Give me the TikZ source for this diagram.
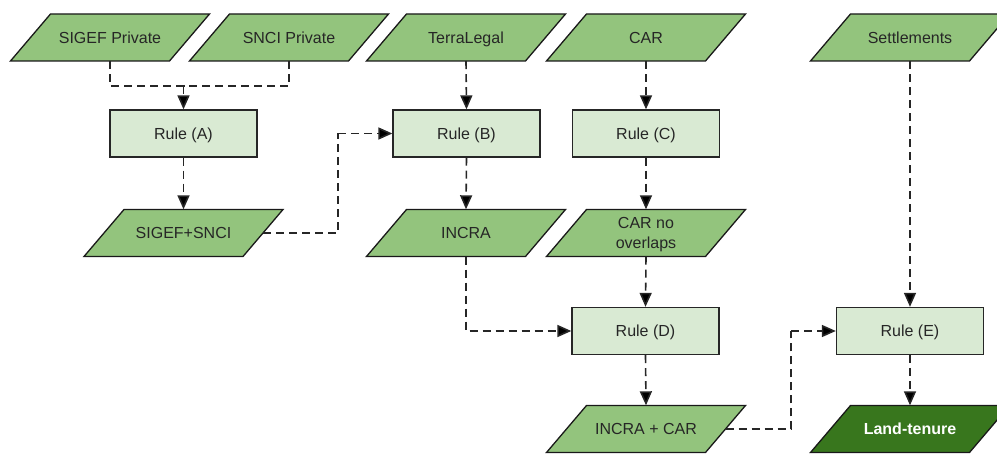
\documentclass[tikz,border=0pt]{standalone}
\usepackage{fontspec}
\setmainfont{Liberation Sans}
\usetikzlibrary{arrows.meta,backgrounds}
\definecolor{midgreen}{HTML}{93C47D}
\definecolor{lightgreen}{HTML}{D9EAD3}
\definecolor{darkgreen}{HTML}{38761D}
\definecolor{txt}{HTML}{262626}
\definecolor{linegray}{HTML}{262626}
\tikzset{
  data/.style={rectangle, minimum width=159pt, minimum height=47pt, inner sep=0pt,
    text height=11.5pt, text depth=0pt,
    text=txt, font=\fontsize{16}{20}\selectfont, align=center},
  datatwo/.style={data, text height=31.5pt, text depth=0pt},
  result/.style={data, text=white, font=\fontsize{16}{20}\selectfont\bfseries},
  dataface/.style={fill=midgreen, draw=black!90, line width=1.3pt, line join=miter},
  resultface/.style={dataface, fill=darkgreen},
  rulebox/.style={rectangle, minimum width=147pt, minimum height=47pt,
    text height=11.5pt, text depth=0pt,
    draw=black!85, line width=1.3pt, fill=lightgreen, text=txt,
    font=\fontsize{16}{20}\selectfont},
  conn/.style={draw=linegray, line width=1.6pt, dash pattern=on 8pt off 5pt},
  arr/.style={conn, -{Triangle[length=14pt,width=12pt,fill=black]}},
}
% #1 node style, #2 face style, #3 name, #4 position, #5 text
\newcommand{\paranode}[5]{%
  \node[#1] (#3) at (#4) {#5};
  \begin{scope}[on background layer]
    \draw[#2, shift={(#3.center)}] (-99.5,23.5) -- (-59.5,-23.5) -- (99.5,-23.5) -- (59.5,23.5) -- cycle;
  \end{scope}}
\begin{document}
\begin{tikzpicture}[x=1pt,y=-1pt]
\useasboundingbox (0,0) rectangle (997,454);
% top inputs
\paranode{data}{dataface}{sigef}{110,37.5}{SIGEF Private}
\paranode{data}{dataface}{snci}{289,37.5}{SNCI Private}
\paranode{data}{dataface}{terra}{466,37.5}{TerraLegal}
\paranode{data}{dataface}{car}{646,37.5}{CAR}
\paranode{data}{dataface}{settl}{910,37.5}{Settlements}
% rules
\node[rulebox] (ruleA) at (183.5,133.5) {Rule (A)};
\node[rulebox] (ruleB) at (466.5,133.5) {Rule (B)};
\node[rulebox] (ruleC) at (646,133.5) {Rule (C)};
\node[rulebox] (ruleD) at (645.5,331) {Rule (D)};
\node[rulebox] (ruleE) at (910,331) {Rule (E)};
% intermediate
\paranode{data}{dataface}{sigefsnci}{183.5,233}{SIGEF+SNCI}
\paranode{data}{dataface}{incra}{466,233}{INCRA}
\paranode{datatwo}{dataface}{carno}{646,233}{CAR no\\overlaps}
\paranode{data}{dataface}{incracar}{646,429}{INCRA + CAR}
\paranode{result}{resultface}{land}{910,429}{Land-tenure}
% helper coordinates
\coordinate (j1) at (183.5,86);
\coordinate (k1) at (338,0);
\coordinate (k2) at (791,0);
% connectors
\draw[conn] (sigef.south) |- (j1) -| (snci.south);
\draw[arr] (j1) -- (ruleA.north);
\draw[arr] (ruleA.south) -- (sigefsnci.north);
\draw[conn] (sigefsnci.east) -| (k1 |- ruleB.west);
\draw[arr] (k1 |- ruleB.west) -- (ruleB.west);
\draw[arr] (terra.south) -- (ruleB.north);
\draw[arr] (ruleB.south) -- (incra.north);
\draw[arr] (car.south) -- (ruleC.north);
\draw[arr] (ruleC.south) -- (carno.north);
\draw[arr] (carno.south) -- (ruleD.north);
\draw[arr] (incra.south) |- (ruleD.west);
\draw[arr] (ruleD.south) -- (incracar.north);
\draw[conn] (incracar.east) -| (k2 |- ruleE.west);
\draw[arr] (k2 |- ruleE.west) -- (ruleE.west);
\draw[arr] (settl.south) -- (ruleE.north);
\draw[arr] (ruleE.south) -- (land.north);
\end{tikzpicture}
\end{document}
